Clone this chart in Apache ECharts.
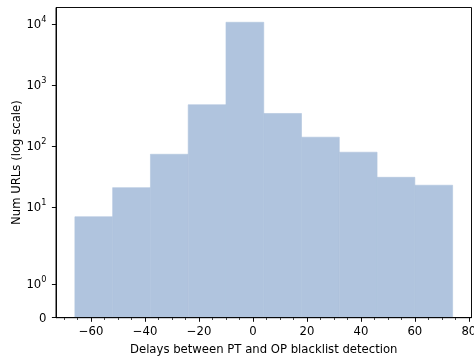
<!DOCTYPE html>
<html>
<head>
<meta charset="utf-8">
<script src="https://cdn.jsdelivr.net/npm/echarts@6/dist/echarts.min.js"></script>
<style>
  html, body { margin: 0; padding: 0; background: #fff; }
  #chart { width: 474px; height: 356px; }
</style>
</head>
<body>
<div id="chart"></div>
<script>
// histogram: bin edges and counts per bin
const binEdges = [-66, -52, -38, -24, -10, 4, 18, 32, 46, 60, 74];
const counts = [7, 21, 74, 480, 10800, 345, 141, 80, 31, 23];

const xMajorTicks = [-60, -40, -20, 0, 20, 40, 60, 80];
const xMinorTicks = [-70, -65, -55, -50, -45, -35, -30, -25, -15, -10, -5,
  5, 10, 15, 25, 30, 35, 45, 50, 55, 65, 70, 75];
const yTickValues = [0, 1, 10, 100, 1000, 10000];
const yTickLabels = ['0', '10^0', '10^1', '10^2', '10^3', '10^4'];

const FONT = 'DejaVu Sans';
const FS = 11.67;
const BAR_COLOR = '#b0c4de';

// symlog scale (linthresh 2, linscale 1, base 10), in decade units
const LINTHRESH = 2;
const LIN_ADJ = 1 / (1 - 1 / 10);
const symlog = v => {
  const a = Math.abs(v);
  if (a <= LINTHRESH) return v * LIN_ADJ / LINTHRESH;
  return Math.sign(v) * (LIN_ADJ + Math.log10(a / LINTHRESH));
};

const yTickPos = yTickValues.map(symlog);
const yMax = Math.max(...counts.map(symlog)) * 1.05;

const chart = echarts.init(document.getElementById('chart'));

const option = {
  animation: false,
  backgroundColor: '#fff',
  grid: {
    left: 56,
    right: 2.5,
    top: 7.5,
    bottom: 38.3,
    outerBoundsMode: 'none',
    containLabel: false,
    show: true,
    borderColor: '#000',
    borderWidth: 0.95,
    backgroundColor: 'transparent'
  },
  xAxis: [{
    type: 'value',
    min: -73,
    max: 81,
    position: 'bottom',
    z: 5,
    splitLine: { show: false },
    axisLine: { show: true, onZero: false, lineStyle: { color: '#000', width: 0.95 } },
    axisTick: { show: true, customValues: xMajorTicks, length: 4.1, lineStyle: { color: '#000', width: 0.95 } },
    axisLabel: {
      customValues: xMajorTicks,
      margin: 8.5,
      color: '#000',
      fontFamily: FONT,
      fontSize: FS,
      formatter: v => String(v).replace('-', '\u2212')
    },
    name: 'Delays between PT and OP blacklist detection',
    nameLocation: 'middle',
    nameGap: 26,
    nameMoveOverlap: false,
    nameTextStyle: { color: '#000', fontFamily: FONT, fontSize: FS }
  }, {
    type: 'value',
    min: -73,
    max: 81,
    position: 'bottom',
    z: 5,
    splitLine: { show: false },
    axisLine: { show: false, onZero: false },
    axisTick: { show: true, customValues: xMinorTicks, length: 2.3, lineStyle: { color: '#000', width: 0.7 } },
    axisLabel: { show: false }
  }],
  yAxis: {
    type: 'value',
    min: 0,
    max: yMax,
    z: 5,
    splitLine: { show: false },
    axisLine: { show: true, onZero: false, lineStyle: { color: '#000', width: 0.95 } },
    axisTick: { show: true, customValues: yTickPos, length: 4.1, lineStyle: { color: '#000', width: 0.95 } },
    axisLabel: {
      customValues: yTickPos,
      margin: 9.5,
      color: '#000',
      fontFamily: FONT,
      fontSize: FS,
      formatter: v => {
        let idx = 0;
        yTickPos.forEach((p, i) => { if (Math.abs(p - v) < Math.abs(yTickPos[idx] - v)) idx = i; });
        const lab = yTickLabels[idx];
        if (lab.indexOf('^') < 0) return '{n|' + lab + '}';
        const parts = lab.split('^');
        return '{n|' + parts[0] + '}{s|' + parts[1] + '}';
      },
      rich: {
        n: { fontFamily: FONT, fontSize: FS, lineHeight: 14, verticalAlign: 'bottom', color: '#000' },
        s: { fontFamily: FONT, fontSize: 8.2, lineHeight: 9, padding: [0, 0, 7, 0], verticalAlign: 'bottom', color: '#000' }
      }
    },
    name: 'Num URLs (log scale)',
    nameLocation: 'middle',
    nameGap: 33,
    nameMoveOverlap: false,
    nameTextStyle: { color: '#000', fontFamily: FONT, fontSize: FS }
  },
  series: [{
    type: 'custom',
    xAxisIndex: 0,
    renderItem: (params, api) => {
      const p0 = api.coord([api.value(0), 0]);
      const p1 = api.coord([api.value(1), api.value(2)]);
      return {
        type: 'rect',
        shape: { x: p0[0], y: p1[1], width: p1[0] - p0[0], height: p0[1] - p1[1] },
        style: { fill: BAR_COLOR, stroke: BAR_COLOR, lineWidth: 0.6 }
      };
    },
    encode: { x: [0, 1], y: 2 },
    data: counts.map((c, i) => [binEdges[i], binEdges[i + 1], symlog(c)])
  }]
};

chart.setOption(option);
</script>
</body>
</html>
